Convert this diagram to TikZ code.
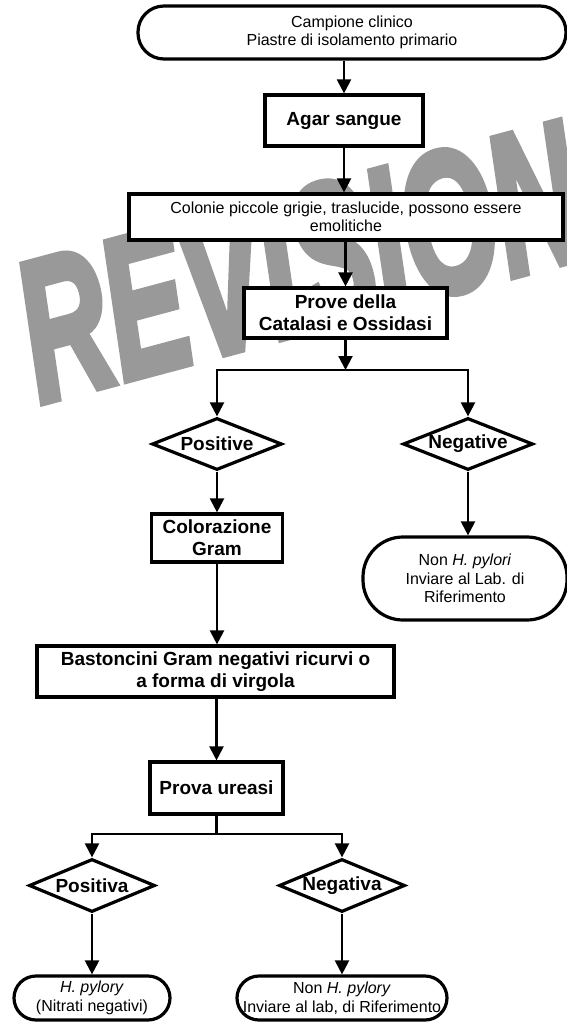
\documentclass[tikz,border=0pt]{standalone}
\usepackage{fontspec}
\setmainfont{Liberation Sans}
\usetikzlibrary{shapes.geometric, arrows.meta, calc}
\definecolor{wmgray}{RGB}{153, 153, 153}

\begin{document}
\begin{tikzpicture}[x=1pt, y=-1pt,
  box/.style={draw, fill=white, line width=3.2pt, align=center, inner sep=0pt,
              font=\fontsize{19}{22}\selectfont\bfseries},
  plainbox/.style={box, font=\fontsize{16}{18.5}\selectfont},
  term/.style={box, rounded corners=#1, font=\fontsize{16}{18.5}\selectfont},
  choice/.style={box, diamond, aspect=2.5},
  wm/.style={anchor=base west, rotate=15, xscale=0.6, inner sep=0pt, text=wmgray,
             font=\fontsize{200}{200}\selectfont\bfseries\itshape\addfontfeatures{FakeBold=4}},
  arrow/.style={line width=2.2pt, -{Triangle[length=14pt, width=14pt]}}]
  \useasboundingbox (0, 0) rectangle (567, 1022);

  \node[wm] (rev) at (40, 403) {REVISION};

  \node[term=26pt, minimum width=428pt, minimum height=53pt] (camp) at (352, 32.5)
       {Campione clinico\\Piastre di isolamento primario};
  \node[box, minimum width=158pt, minimum height=51pt] (agar) at (344, 120.5) {Agar sangue};
  \node[plainbox, minimum width=434pt, minimum height=46pt] (colon) at (346, 217)
       {Colonie piccole grigie, traslucide, possono essere\\emolitiche};
  \node[box, minimum width=203pt, minimum height=50pt] (prove) at (345.5, 313)
       {Prove della\\Catalasi e Ossidasi};

  \node[choice, minimum width=130pt, minimum height=52pt] (pos1) at (217, 444) {Positive};
  \node[choice, minimum width=130pt, minimum height=52pt] (neg1) at (468, 444) {Negative};
  \node[box, minimum width=131pt, minimum height=48pt] (gram) at (217, 538) {Colorazione\\Gram};
  \node[term=40pt, minimum width=204pt, minimum height=83pt] (nonhp1) at (465, 578.5)
       {Non \textit{H. pylori}\\Inviare al Lab. di\\Riferimento};
  \node[box, minimum width=357pt, minimum height=51pt] (bast) at (215.5, 671.5)
       {Bastoncini Gram negativi ricurvi o\\a forma di virgola};
  \node[box, minimum width=133pt, minimum height=52pt] (urea) at (216.5, 788) {Prova ureasi};

  \node[choice, minimum width=126pt, minimum height=53pt] (pos2) at (92, 885.5) {Positiva};
  \node[choice, minimum width=126pt, minimum height=53pt] (neg2) at (342, 885.5) {Negativa};
  \node[term=22pt, minimum width=156pt, minimum height=44pt] (hp) at (92, 998)
       {\textit{H. pylory}\\(Nitrati negativi)};
  \node[term=22pt, minimum width=210pt, minimum height=44pt] (nonhp2) at (342, 998)
       {Non \textit{H. pylory}\\Inviare al lab, di Riferimento};

  \coordinate (s1) at (345.5, 370);
  \coordinate (s2) at (216.5, 834);

  \draw[arrow] (agar |- camp.south) -- (agar.north);
  \draw[arrow] (agar.south) -- (agar.south |- colon.north);
  \draw[arrow] (prove |- colon.south) -- (prove.north);
  \draw[arrow] (prove.south) -- (s1);
  \draw[arrow] (s1) -| (pos1.north);
  \draw[arrow] (s1) -| (neg1.north);
  \draw[arrow] (pos1.south) -- (gram.north);
  \draw[arrow] (neg1.south) -- (neg1.south |- nonhp1.north);
  \draw[arrow] (gram.south) -- (gram.south |- bast.north);
  \draw[arrow] (urea |- bast.south) -- (urea.north);
  \draw[line width=2.2pt] (urea.south) -- (s2);
  \draw[arrow] (s2) -| (pos2.north);
  \draw[arrow] (s2) -| (neg2.north);
  \draw[arrow] (pos2.south) -- (hp.north);
  \draw[arrow] (neg2.south) -- (nonhp2.north);
\end{tikzpicture}
\end{document}
